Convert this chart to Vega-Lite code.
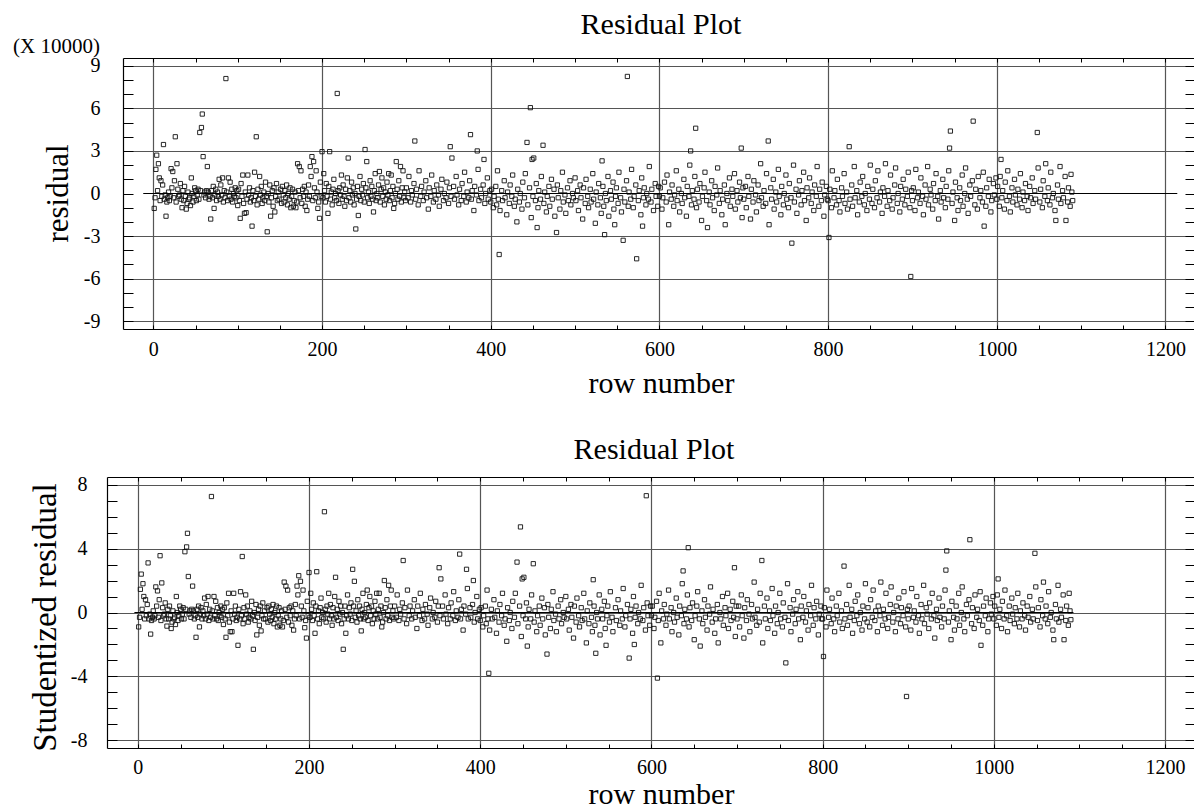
{
  "$schema": "https://vega.github.io/schema/vega-lite/v6.json",
  "padding": {"left": 13, "top": 10, "right": 0, "bottom": 0},
  "spacing": 36,
  "config": {
    "font": "Liberation Serif",
    "view": {"stroke": null},
    "axis": {"labelFont": "Liberation Serif", "titleFont": "Liberation Serif", "labelFontSize": 20, "titleFontSize": 30, "titleFontWeight": "normal", "labelColor": "black", "titleColor": "black", "domainColor": "black", "tickColor": "black", "gridColor": "#555", "gridWidth": 1.2, "domainWidth": 1.2, "tickWidth": 1},
    "title": {"font": "Liberation Serif", "fontSize": 30, "fontWeight": "normal", "color": "black"}
  },
  "datasets": {
    "pts": [
      {"n":1,"r":-1.05,"s":-0.9},{"n":3,"r":1.7,"s":1.45},{"n":4,"r":2.7,"s":2.4},{"n":6,"r":2.1,"s":1.8},{"n":7,"r":1.1,"s":1.0},{"n":9,"r":0.9,"s":0.8},{"n":12,"r":3.45,"s":3.1},{"n":15,"r":-1.6,"s":-1.35},{"n":21,"r":1.75,"s":1.6},{"n":23,"r":1.55,"s":1.35},{"n":26,"r":4.0,"s":3.55},{"n":28,"r":2.1,"s":1.85},{"n":34,"r":-1.0,"s":-0.85},{"n":39,"r":-1.1,"s":-1.0},{"n":44,"r":-0.85,"s":-0.75},{"n":45,"r":1.1,"s":1.0},{"n":55,"r":4.3,"s":3.8},{"n":57,"r":4.65,"s":4.1},{"n":58,"r":5.6,"s":4.95},{"n":59,"r":2.6,"s":2.25},{"n":64,"r":1.9,"s":1.65},{"n":68,"r":-1.8,"s":-1.55},{"n":72,"r":-1.05,"s":-0.9},{"n":86,"r":8.1,"s":7.25},{"n":100,"r":-0.85,"s":-0.75},{"n":103,"r":-1.75,"s":-1.55},{"n":108,"r":-1.4,"s":-1.2},{"n":110,"r":-1.35,"s":-1.2},{"n":117,"r":-2.3,"s":-2.05},{"n":122,"r":4.0,"s":3.5},{"n":135,"r":-2.7,"s":-2.3},{"n":139,"r":-1.6,"s":-1.4},{"n":144,"r":-1.3,"s":-1.15},{"n":171,"r":2.1,"s":1.9},{"n":173,"r":1.9,"s":1.65},{"n":175,"r":1.6,"s":1.4},{"n":182,"r":-1.2,"s":-1.1},{"n":186,"r":1.9,"s":1.65},{"n":188,"r":2.6,"s":2.3},{"n":190,"r":2.25,"s":1.95},{"n":195,"r":-1.05,"s":-0.95},{"n":197,"r":-1.75,"s":-1.6},{"n":200,"r":2.95,"s":2.5},{"n":207,"r":-1.4,"s":-1.3},{"n":209,"r":2.95,"s":2.55},{"n":218,"r":7.05,"s":6.3},{"n":231,"r":2.5,"s":2.2},{"n":240,"r":-2.5,"s":-2.3},{"n":243,"r":-1.55,"s":-1.3},{"n":251,"r":3.1,"s":2.7},{"n":253,"r":2.25,"s":1.95},{"n":261,"r":-1.3,"s":-1.15},{"n":268,"r":1.55,"s":1.4},{"n":279,"r":1.4,"s":1.2},{"n":285,"r":-1.05,"s":-0.9},{"n":288,"r":2.25,"s":2.0},{"n":293,"r":1.9,"s":1.7},{"n":310,"r":3.7,"s":3.25},{"n":352,"r":3.3,"s":2.8},{"n":354,"r":2.5,"s":2.1},{"n":376,"r":4.15,"s":3.65},{"n":384,"r":3.0,"s":2.7},{"n":392,"r":2.4,"s":2.0},{"n":410,"r":-4.3,"s":-3.8},{"n":443,"r":3.6,"s":3.15},{"n":447,"r":6.05,"s":5.35},{"n":455,"r":-2.4,"s":-2.1},{"n":462,"r":3.4,"s":3.05},{"n":478,"r":-2.75,"s":-2.6},{"n":532,"r":2.3,"s":2.05},{"n":535,"r":-2.9,"s":-2.55},{"n":547,"r":-2.2,"s":-2.05},{"n":557,"r":-3.3},{"n":562,"r":8.25},{"n":573,"r":-4.6},{"n":574,"s":-2.85},{"n":594,"s":7.3},{"n":607,"s":-4.1},{"n":580,"r":-2.3,"s":-2.0},{"n":637,"r":3.0,"s":2.6},{"n":643,"r":4.6,"s":4.05},{"n":697,"r":3.2,"s":2.8},{"n":729,"r":3.7,"s":3.25},{"n":757,"r":-3.5,"s":-3.15},{"n":801,"r":-3.1,"s":-2.75},{"n":825,"r":3.3,"s":2.9},{"n":898,"r":-5.85,"s":-5.25},{"n":944,"r":3.2,"s":2.65},{"n":945,"r":4.4,"s":3.85},{"n":972,"r":5.1,"s":4.55},{"n":985,"r":-2.3,"s":-2.05},{"n":1005,"r":2.4,"s":2.1},{"n":1048,"r":4.3,"s":3.7},{"n":1070,"r":-1.9,"s":-1.7},{"n":1082,"r":-1.9,"s":-1.7},{"n":1088,"r":1.35,"s":1.2},{"n":1090,"r":-0.5,"s":-0.45},
      {"n":2,"r":-0.3,"s":-0.3},{"n":5,"r":0.2,"s":0.2},{"n":8,"r":-0.5,"s":-0.4},{"n":10,"r":-0.2,"s":-0.2},{"n":11,"r":0.6,"s":0.5},{"n":13,"r":-0.4,"s":-0.4},{"n":14,"r":-0.1,"s":-0.1},{"n":16,"r":-0.6,"s":-0.5},{"n":17,"r":-0.3,"s":-0.3},{"n":18,"r":0.1,"s":0.1},{"n":19,"r":-0.5,"s":-0.4},{"n":20,"r":-0.2,"s":-0.2},{"n":22,"r":0.4,"s":0.4},{"n":24,"r":-0.3,"s":-0.3},{"n":25,"r":0.9,"s":0.8},{"n":27,"r":-0.6,"s":-0.5},{"n":29,"r":0.3,"s":0.3},{"n":30,"r":-0.2,"s":-0.2},{"n":31,"r":-0.1,"s":-0.1},{"n":32,"r":0.7,"s":0.6},{"n":33,"r":-0.4,"s":-0.4},{"n":35,"r":0.2,"s":0.2},{"n":36,"r":-0.5,"s":-0.4},{"n":37,"r":0.5,"s":0.4},{"n":38,"r":-0.2,"s":-0.2},{"n":40,"r":-0.7,"s":-0.6},{"n":41,"r":0.1,"s":0.1},{"n":42,"r":-0.4,"s":-0.4},{"n":43,"r":-0.3,"s":-0.3},{"n":46,"r":0.0,"s":0.0},{"n":47,"r":-0.6,"s":-0.5},{"n":48,"r":-0.2,"s":-0.2},{"n":49,"r":0.4,"s":0.4},{"n":50,"r":0.2,"s":0.2},{"n":51,"r":-0.5,"s":-0.4},{"n":52,"r":-0.1,"s":-0.1},{"n":53,"r":0.3,"s":0.3},{"n":54,"r":-0.4,"s":-0.4},{"n":56,"r":0.2,"s":0.2},{"n":60,"r":-0.1,"s":-0.1},{"n":61,"r":0.1,"s":0.1},{"n":62,"r":-0.3,"s":-0.3},{"n":63,"r":0.2,"s":0.2},{"n":65,"r":0.1,"s":0.1},{"n":66,"r":-0.4,"s":-0.4},{"n":67,"r":-0.2,"s":-0.2},{"n":69,"r":0.2,"s":0.2},{"n":70,"r":-0.3,"s":-0.3},{"n":71,"r":0.5,"s":0.4},{"n":73,"r":-0.1,"s":-0.1},{"n":74,"r":0.3,"s":0.3},{"n":75,"r":-0.5,"s":-0.4},{"n":76,"r":0.1,"s":0.1},{"n":77,"r":-0.2,"s":-0.2},{"n":78,"r":1.0,"s":0.9},{"n":79,"r":-0.4,"s":-0.4},{"n":80,"r":0.6,"s":0.5},{"n":81,"r":-0.1,"s":-0.1},{"n":82,"r":1.1,"s":1.0},{"n":83,"r":-0.6,"s":-0.5},{"n":84,"r":0.2,"s":0.2},{"n":85,"r":-0.3,"s":-0.3},{"n":87,"r":0.1,"s":0.1},{"n":88,"r":-0.5,"s":-0.4},{"n":89,"r":1.1,"s":1.0},{"n":90,"r":-0.2,"s":-0.2},{"n":91,"r":0.8,"s":0.7},{"n":92,"r":-0.4,"s":-0.4},{"n":93,"r":0.3,"s":0.3},{"n":94,"r":-0.6,"s":-0.5},{"n":95,"r":0.0,"s":0.0},{"n":96,"r":-0.2,"s":-0.2},{"n":97,"r":0.4,"s":0.4},{"n":98,"r":-0.3,"s":-0.3},{"n":99,"r":0.2,"s":0.2},
      {"n":101,"r":0.3,"s":0.3},{"n":102,"r":-0.5,"s":-0.4},{"n":104,"r":0.7,"s":0.6},{"n":105,"r":-0.2,"s":-0.2},{"n":106,"r":1.3,"s":1.2},{"n":107,"r":-0.7,"s":-0.6},{"n":109,"r":0.1,"s":0.1},{"n":111,"r":-0.4,"s":-0.4},{"n":112,"r":1.3,"s":1.2},{"n":113,"r":-0.1,"s":-0.1},{"n":114,"r":0.4,"s":0.4},{"n":115,"r":-0.6,"s":-0.5},{"n":116,"r":-0.3,"s":-0.3},{"n":118,"r":0.2,"s":0.2},{"n":119,"r":-0.5,"s":-0.4},{"n":120,"r":1.5,"s":1.3},{"n":121,"r":-0.2,"s":-0.2},{"n":123,"r":-0.8,"s":-0.7},{"n":124,"r":0.3,"s":0.3},{"n":125,"r":-0.4,"s":-0.4},{"n":126,"r":1.2,"s":1.1},{"n":127,"r":-0.1,"s":-0.1},{"n":128,"r":0.5,"s":0.4},{"n":129,"r":-0.7,"s":-0.6},{"n":130,"r":-0.3,"s":-0.3},{"n":131,"r":0.1,"s":0.1},{"n":132,"r":-0.5,"s":-0.4},{"n":133,"r":0.8,"s":0.7},{"n":134,"r":-0.2,"s":-0.2},{"n":136,"r":0.0,"s":0.0},{"n":137,"r":-0.6,"s":-0.5},{"n":138,"r":0.6,"s":0.5},{"n":140,"r":-0.3,"s":-0.3},{"n":141,"r":0.2,"s":0.2},{"n":142,"r":-0.9,"s":-0.8},{"n":143,"r":0.4,"s":0.4},{"n":145,"r":-0.2,"s":-0.2},{"n":146,"r":0.7,"s":0.6},{"n":147,"r":-0.5,"s":-0.4},{"n":148,"r":0.1,"s":0.1},{"n":149,"r":-0.4,"s":-0.4},{"n":151,"r":0.3,"s":0.3},{"n":152,"r":-0.7,"s":-0.6},{"n":153,"r":0.5,"s":0.4},{"n":154,"r":-0.1,"s":-0.1},{"n":155,"r":-0.6,"s":-0.5},{"n":156,"r":0.2,"s":0.2},{"n":157,"r":-0.3,"s":-0.3},{"n":158,"r":0.6,"s":0.5},{"n":159,"r":-0.8,"s":-0.7},{"n":160,"r":0.0,"s":0.0},{"n":161,"r":-0.4,"s":-0.4},{"n":162,"r":0.4,"s":0.4},{"n":163,"r":-1.0,"s":-0.9},{"n":164,"r":-0.2,"s":-0.2},{"n":165,"r":0.3,"s":0.3},{"n":166,"r":-0.9,"s":-0.8},{"n":167,"r":-0.5,"s":-0.4},{"n":168,"r":0.1,"s":0.1},{"n":169,"r":-1.0,"s":-0.9},{"n":170,"r":-0.6,"s":-0.5},{"n":172,"r":0.2,"s":0.2},{"n":174,"r":-0.3,"s":-0.3},{"n":176,"r":-0.7,"s":-0.6},{"n":177,"r":0.3,"s":0.3},{"n":178,"r":-0.2,"s":-0.2},{"n":179,"r":0.5,"s":0.4},{"n":180,"r":-0.9,"s":-0.8},{"n":181,"r":0.1,"s":0.1},{"n":183,"r":-0.4,"s":-0.4},{"n":184,"r":0.6,"s":0.5},{"n":185,"r":-0.2,"s":-0.2},{"n":187,"r":1.2,"s":1.1},{"n":189,"r":-0.5,"s":-0.4},{"n":191,"r":0.4,"s":0.4},{"n":192,"r":-0.3,"s":-0.3},{"n":193,"r":1.6,"s":1.4},{"n":194,"r":0.1,"s":0.1},{"n":196,"r":-0.6,"s":-0.5},{"n":198,"r":0.8,"s":0.7},{"n":199,"r":-0.2,"s":-0.2},
      {"n":201,"r":-0.3,"s":-0.3},{"n":202,"r":1.4,"s":1.2},{"n":203,"r":0.2,"s":0.2},{"n":204,"r":-0.6,"s":-0.5},{"n":205,"r":0.7,"s":0.6},{"n":206,"r":-0.2,"s":-0.2},{"n":208,"r":0.5,"s":0.4},{"n":210,"r":-0.4,"s":-0.4},{"n":211,"r":0.1,"s":0.1},{"n":212,"r":-0.8,"s":-0.7},{"n":213,"r":0.3,"s":0.3},{"n":214,"r":1.0,"s":0.9},{"n":215,"r":-0.3,"s":-0.3},{"n":216,"r":0.0,"s":0.0},{"n":217,"r":-0.5,"s":-0.4},{"n":219,"r":0.2,"s":0.2},{"n":220,"r":-0.7,"s":-0.6},{"n":221,"r":0.4,"s":0.4},{"n":222,"r":-0.1,"s":-0.1},{"n":223,"r":1.3,"s":1.2},{"n":224,"r":-0.4,"s":-0.4},{"n":225,"r":0.6,"s":0.5},{"n":226,"r":-0.2,"s":-0.2},{"n":227,"r":-0.9,"s":-0.8},{"n":228,"r":0.3,"s":0.3},{"n":229,"r":-0.5,"s":-0.4},{"n":230,"r":1.1,"s":1.0},{"n":232,"r":-0.3,"s":-0.3},{"n":233,"r":0.2,"s":0.2},{"n":234,"r":-0.6,"s":-0.5},{"n":235,"r":0.8,"s":0.7},{"n":236,"r":-0.1,"s":-0.1},{"n":237,"r":0.4,"s":0.4},{"n":238,"r":-0.8,"s":-0.7},{"n":239,"r":0.0,"s":0.0},{"n":241,"r":-0.4,"s":-0.4},{"n":242,"r":0.5,"s":0.4},{"n":244,"r":-0.2,"s":-0.2},{"n":245,"r":1.2,"s":1.1},{"n":246,"r":-0.5,"s":-0.4},{"n":247,"r":0.3,"s":0.3},{"n":248,"r":-0.1,"s":-0.1},{"n":249,"r":0.7,"s":0.6},{"n":250,"r":-0.6,"s":-0.5},{"n":252,"r":0.4,"s":0.4},{"n":254,"r":-0.3,"s":-0.3},{"n":255,"r":0.1,"s":0.1},{"n":256,"r":-0.7,"s":-0.6},{"n":257,"r":0.9,"s":0.8},{"n":258,"r":-0.2,"s":-0.2},{"n":259,"r":0.5,"s":0.4},{"n":260,"r":-0.4,"s":-0.4},{"n":262,"r":0.2,"s":0.2},{"n":263,"r":1.4,"s":1.2},{"n":264,"r":-0.5,"s":-0.4},{"n":265,"r":0.0,"s":0.0},{"n":266,"r":-0.3,"s":-0.3},{"n":267,"r":0.6,"s":0.5},{"n":269,"r":-0.6,"s":-0.5},{"n":270,"r":0.3,"s":0.3},{"n":271,"r":1.1,"s":1.0},{"n":272,"r":-0.2,"s":-0.2},{"n":273,"r":0.4,"s":0.4},{"n":274,"r":-0.8,"s":-0.7},{"n":275,"r":0.1,"s":0.1},{"n":276,"r":-0.4,"s":-0.4},{"n":277,"r":0.8,"s":0.7},{"n":278,"r":-0.1,"s":-0.1},{"n":280,"r":-0.5,"s":-0.4},{"n":281,"r":0.2,"s":0.2},{"n":282,"r":1.3,"s":1.2},{"n":283,"r":-0.3,"s":-0.3},{"n":284,"r":0.5,"s":0.4},{"n":286,"r":-0.7,"s":-0.6},{"n":287,"r":0.0,"s":0.0},{"n":289,"r":0.3,"s":0.3},{"n":290,"r":-0.4,"s":-0.4},{"n":291,"r":0.9,"s":0.8},{"n":292,"r":-0.2,"s":-0.2},{"n":294,"r":-0.6,"s":-0.5},{"n":295,"r":0.4,"s":0.4},{"n":296,"r":1.6,"s":1.4},{"n":297,"r":-0.3,"s":-0.3},{"n":298,"r":0.1,"s":0.1},{"n":299,"r":-0.5,"s":-0.4},
      {"n":300,"r":0.4,"s":0.4},{"n":302,"r":-0.3,"s":-0.3},{"n":303,"r":1.2,"s":1.1},{"n":305,"r":-0.6,"s":-0.5},{"n":306,"r":0.2,"s":0.2},{"n":307,"r":-0.1,"s":-0.1},{"n":309,"r":0.7,"s":0.6},{"n":311,"r":-0.4,"s":-0.4},{"n":312,"r":0.3,"s":0.3},{"n":314,"r":-0.8,"s":-0.7},{"n":315,"r":1.6,"s":1.4},{"n":317,"r":-0.2,"s":-0.2},{"n":318,"r":0.5,"s":0.4},{"n":320,"r":-0.5,"s":-0.4},{"n":321,"r":0.1,"s":0.1},{"n":323,"r":0.9,"s":0.8},{"n":324,"r":-0.3,"s":-0.3},{"n":326,"r":-1.1,"s":-1.0},{"n":327,"r":0.4,"s":0.4},{"n":329,"r":-0.2,"s":-0.2},{"n":330,"r":1.3,"s":1.2},{"n":332,"r":-0.6,"s":-0.5},{"n":333,"r":0.2,"s":0.2},{"n":335,"r":-0.4,"s":-0.4},{"n":336,"r":0.6,"s":0.5},{"n":338,"r":-0.1,"s":-0.1},{"n":339,"r":-0.9,"s":-0.8},{"n":341,"r":0.3,"s":0.3},{"n":342,"r":1.0,"s":0.9},{"n":344,"r":-0.5,"s":-0.4},{"n":345,"r":0.0,"s":0.0},{"n":347,"r":-0.3,"s":-0.3},{"n":348,"r":0.8,"s":0.7},{"n":350,"r":-0.7,"s":-0.6},{"n":351,"r":0.4,"s":0.4},{"n":353,"r":-0.2,"s":-0.2},{"n":356,"r":0.5,"s":0.4},{"n":357,"r":-0.4,"s":-0.4},{"n":359,"r":1.2,"s":1.1},{"n":360,"r":-0.1,"s":-0.1},{"n":362,"r":-0.8,"s":-0.7},{"n":363,"r":0.3,"s":0.3},{"n":365,"r":-0.5,"s":-0.4},{"n":366,"r":0.7,"s":0.6},{"n":368,"r":-0.2,"s":-0.2},{"n":369,"r":1.5,"s":1.3},{"n":371,"r":-0.6,"s":-0.5},{"n":372,"r":0.1,"s":0.1},{"n":374,"r":-0.3,"s":-0.3},{"n":375,"r":0.9,"s":0.8},{"n":377,"r":-0.4,"s":-0.4},{"n":378,"r":0.2,"s":0.2},{"n":380,"r":-1.2,"s":-1.1},{"n":381,"r":0.5,"s":0.4},{"n":383,"r":-0.1,"s":-0.1},{"n":385,"r":1.7,"s":1.5},{"n":386,"r":-0.5,"s":-0.4},{"n":388,"r":0.3,"s":0.3},{"n":389,"r":-0.3,"s":-0.3},{"n":391,"r":0.6,"s":0.5},{"n":393,"r":-0.7,"s":-0.6},{"n":394,"r":0.0,"s":0.0},{"n":396,"r":1.1,"s":1.0},{"n":397,"r":-0.4,"s":-0.4},{"n":399,"r":0.2,"s":0.2},
      {"n":400,"r":-0.6,"s":-0.5},{"n":401,"r":0.3,"s":0.3},{"n":403,"r":-1.0,"s":-0.9},{"n":404,"r":-0.2,"s":-0.2},{"n":406,"r":0.5,"s":0.4},{"n":407,"r":-0.8,"s":-0.7},{"n":408,"r":1.6,"s":1.4},{"n":409,"r":-0.4,"s":-0.4},{"n":411,"r":-1.2,"s":-1.1},{"n":413,"r":0.2,"s":0.2},{"n":414,"r":-0.5,"s":-0.4},{"n":416,"r":0.9,"s":0.8},{"n":417,"r":-0.3,"s":-0.3},{"n":419,"r":-1.5,"s":-1.3},{"n":420,"r":0.1,"s":0.1},{"n":422,"r":-0.7,"s":-0.6},{"n":423,"r":0.6,"s":0.5},{"n":425,"r":-0.2,"s":-0.2},{"n":426,"r":1.3,"s":1.2},{"n":428,"r":-0.9,"s":-0.8},{"n":429,"r":-0.4,"s":-0.4},{"n":431,"r":-2.0,"s":-1.8},{"n":432,"r":0.3,"s":0.3},{"n":434,"r":-0.6,"s":-0.5},{"n":435,"r":0.0,"s":0.0},{"n":437,"r":-1.1,"s":-1.0},{"n":438,"r":0.8,"s":0.7},{"n":440,"r":-0.3,"s":-0.3},{"n":441,"r":1.4,"s":1.2},{"n":444,"r":-0.8,"s":-0.7},{"n":446,"r":0.4,"s":0.4},{"n":448,"r":-1.7,"s":-1.5},{"n":449,"r":2.4,"s":2.1},{"n":450,"r":-0.2,"s":-0.2},{"n":451,"r":2.5,"s":2.2},{"n":453,"r":-0.5,"s":-0.4},{"n":454,"r":0.7,"s":0.6},{"n":456,"r":-1.0,"s":-0.9},{"n":457,"r":0.2,"s":0.2},{"n":459,"r":-0.4,"s":-0.4},{"n":460,"r":1.2,"s":1.1},{"n":463,"r":-0.7,"s":-0.6},{"n":464,"r":0.1,"s":0.1},{"n":466,"r":-1.3,"s":-1.2},{"n":467,"r":-0.2,"s":-0.2},{"n":469,"r":0.5,"s":0.4},{"n":470,"r":-0.9,"s":-0.8},{"n":472,"r":1.0,"s":0.9},{"n":473,"r":-0.4,"s":-0.4},{"n":475,"r":0.3,"s":0.3},{"n":476,"r":-1.6,"s":-1.4},{"n":479,"r":0.6,"s":0.5},{"n":480,"r":-0.3,"s":-0.3},{"n":482,"r":-1.1,"s":-1.0},{"n":483,"r":0.2,"s":0.2},{"n":485,"r":1.5,"s":1.3},{"n":486,"r":-0.6,"s":-0.5},{"n":488,"r":-0.1,"s":-0.1},{"n":489,"r":-1.4,"s":-1.2},{"n":491,"r":0.4,"s":0.4},{"n":492,"r":-0.5,"s":-0.4},{"n":494,"r":0.9,"s":0.8},{"n":495,"r":-0.8,"s":-0.7},{"n":497,"r":0.0,"s":0.0},{"n":498,"r":-0.3,"s":-0.3},{"n":500,"r":1.1,"s":1.0},
      {"n":501,"r":-0.5,"s":-0.4},{"n":503,"r":0.2,"s":0.2},{"n":504,"r":-1.2,"s":-1.1},{"n":506,"r":0.6,"s":0.5},{"n":507,"r":-0.3,"s":-0.3},{"n":509,"r":-1.8,"s":-1.6},{"n":510,"r":0.4,"s":0.4},{"n":512,"r":-0.7,"s":-0.6},{"n":513,"r":1.0,"s":0.9},{"n":515,"r":-0.2,"s":-0.2},{"n":516,"r":-1.0,"s":-0.9},{"n":518,"r":0.3,"s":0.3},{"n":519,"r":-0.6,"s":-0.5},{"n":521,"r":1.4,"s":1.2},{"n":522,"r":-0.4,"s":-0.4},{"n":524,"r":-2.1,"s":-1.9},{"n":525,"r":0.1,"s":0.1},{"n":527,"r":-0.8,"s":-0.7},{"n":528,"r":0.7,"s":0.6},{"n":530,"r":-0.3,"s":-0.3},{"n":531,"r":-1.4,"s":-1.2},{"n":533,"r":0.5,"s":0.4},{"n":534,"r":-0.9,"s":-0.8},{"n":536,"r":0.0,"s":0.0},{"n":537,"r":-0.5,"s":-0.4},{"n":539,"r":1.2,"s":1.1},{"n":540,"r":-1.6,"s":-1.4},{"n":542,"r":0.2,"s":0.2},{"n":543,"r":-0.4,"s":-0.4},{"n":545,"r":0.8,"s":0.7},{"n":546,"r":-1.1,"s":-1.0},{"n":548,"r":-0.2,"s":-0.2},{"n":549,"r":0.4,"s":0.4},{"n":551,"r":-0.7,"s":-0.6},{"n":552,"r":1.5,"s":1.3},{"n":554,"r":-0.3,"s":-0.3},{"n":555,"r":-1.3,"s":-1.2},{"n":558,"r":0.3,"s":0.3},{"n":559,"r":-0.6,"s":-0.5},{"n":561,"r":0.9,"s":0.8},{"n":563,"r":-0.9,"s":-0.8},{"n":564,"r":0.1,"s":0.1},{"n":566,"r":-0.4,"s":-0.4},{"n":567,"r":1.7,"s":1.5},{"n":569,"r":-1.0,"s":-0.9},{"n":570,"r":-0.2,"s":-0.2},{"n":572,"r":0.6,"s":0.5},{"n":575,"r":-0.5,"s":-0.4},{"n":576,"r":0.2,"s":0.2},{"n":578,"r":-1.5,"s":-1.3},{"n":579,"r":1.1,"s":1.0},{"n":581,"r":-0.3,"s":-0.3},{"n":582,"r":0.4,"s":0.4},{"n":584,"r":-0.8,"s":-0.7},{"n":585,"r":0.0,"s":0.0},{"n":587,"r":-0.4,"s":-0.4},{"n":588,"r":1.9,"s":1.7},{"n":590,"r":-0.6,"s":-0.5},{"n":591,"r":0.3,"s":0.3},{"n":593,"r":-1.2,"s":-1.1},{"n":595,"r":0.7,"s":0.6},{"n":596,"r":-0.2,"s":-0.2},{"n":598,"r":-0.9,"s":-0.8},{"n":599,"r":0.5,"s":0.4},
      {"n":600,"r":-0.2,"s":-0.2},{"n":601,"r":0.4,"s":0.4},{"n":603,"r":-1.1,"s":-1.0},{"n":604,"r":-0.3,"s":-0.3},{"n":606,"r":0.8,"s":0.7},{"n":608,"r":-0.6,"s":-0.5},{"n":609,"r":1.3,"s":1.2},{"n":611,"r":-2.2,"s":-1.9},{"n":612,"r":0.1,"s":0.1},{"n":614,"r":-0.4,"s":-0.4},{"n":615,"r":0.6,"s":0.5},{"n":617,"r":-0.9,"s":-0.8},{"n":618,"r":-0.1,"s":-0.1},{"n":620,"r":1.6,"s":1.4},{"n":621,"r":-0.5,"s":-0.4},{"n":623,"r":0.3,"s":0.3},{"n":624,"r":-1.3,"s":-1.2},{"n":626,"r":0.0,"s":0.0},{"n":627,"r":-0.7,"s":-0.6},{"n":629,"r":1.0,"s":0.9},{"n":630,"r":-0.3,"s":-0.3},{"n":632,"r":-1.6,"s":-1.4},{"n":633,"r":0.5,"s":0.4},{"n":635,"r":-0.2,"s":-0.2},{"n":636,"r":2.0,"s":1.8},{"n":638,"r":-0.8,"s":-0.7},{"n":639,"r":0.2,"s":0.2},{"n":641,"r":-0.4,"s":-0.4},{"n":642,"r":1.2,"s":1.1},{"n":644,"r":-1.0,"s":-0.9},{"n":645,"r":0.3,"s":0.3},{"n":647,"r":-0.6,"s":-0.5},{"n":648,"r":0.7,"s":0.6},{"n":650,"r":-1.9,"s":-1.7},{"n":651,"r":-0.2,"s":-0.2},{"n":653,"r":0.4,"s":0.4},{"n":654,"r":1.5,"s":1.3},{"n":656,"r":-0.5,"s":-0.4},{"n":657,"r":-2.4,"s":-2.1},{"n":659,"r":0.1,"s":0.1},{"n":660,"r":-0.8,"s":-0.7},{"n":662,"r":0.9,"s":0.8},{"n":663,"r":-0.3,"s":-0.3},{"n":665,"r":-1.2,"s":-1.1},{"n":666,"r":0.5,"s":0.4},{"n":668,"r":-0.1,"s":-0.1},{"n":669,"r":1.8,"s":1.6},{"n":671,"r":-0.7,"s":-0.6},{"n":672,"r":0.2,"s":0.2},{"n":674,"r":-1.5,"s":-1.3},{"n":675,"r":-0.4,"s":-0.4},{"n":677,"r":0.6,"s":0.5},{"n":678,"r":-2.2,"s":-1.9},{"n":680,"r":0.0,"s":0.0},{"n":681,"r":-0.5,"s":-0.4},{"n":683,"r":1.1,"s":1.0},{"n":684,"r":-0.9,"s":-0.8},{"n":686,"r":0.3,"s":0.3},{"n":687,"r":-0.2,"s":-0.2},{"n":689,"r":1.4,"s":1.2},{"n":690,"r":-1.1,"s":-1.0},{"n":692,"r":0.2,"s":0.2},{"n":693,"r":-0.6,"s":-0.5},{"n":695,"r":0.8,"s":0.7},{"n":696,"r":-0.3,"s":-0.3},{"n":698,"r":-1.7,"s":-1.5},{"n":699,"r":0.4,"s":0.4},
      {"n":700,"r":-0.4,"s":-0.4},{"n":702,"r":0.5,"s":0.4},{"n":703,"r":-1.0,"s":-0.9},{"n":705,"r":1.2,"s":1.1},{"n":706,"r":-0.2,"s":-0.2},{"n":708,"r":-1.8,"s":-1.6},{"n":709,"r":0.3,"s":0.3},{"n":711,"r":-0.6,"s":-0.5},{"n":712,"r":0.9,"s":0.8},{"n":714,"r":-0.1,"s":-0.1},{"n":715,"r":-1.3,"s":-1.2},{"n":717,"r":0.6,"s":0.5},{"n":718,"r":-0.5,"s":-0.4},{"n":720,"r":2.1,"s":1.9},{"n":721,"r":-0.3,"s":-0.3},{"n":723,"r":-0.9,"s":-0.8},{"n":724,"r":0.2,"s":0.2},{"n":726,"r":-0.7,"s":-0.6},{"n":727,"r":1.4,"s":1.2},{"n":730,"r":-2.2,"s":-1.9},{"n":732,"r":0.4,"s":0.4},{"n":733,"r":-0.4,"s":-0.4},{"n":735,"r":1.0,"s":0.9},{"n":736,"r":-1.1,"s":-1.0},{"n":738,"r":0.1,"s":0.1},{"n":739,"r":-0.6,"s":-0.5},{"n":741,"r":1.7,"s":1.5},{"n":742,"r":-0.2,"s":-0.2},{"n":744,"r":-1.5,"s":-1.3},{"n":745,"r":0.5,"s":0.4},{"n":747,"r":-0.8,"s":-0.7},{"n":748,"r":0.0,"s":0.0},{"n":750,"r":1.3,"s":1.2},{"n":751,"r":-0.4,"s":-0.4},{"n":753,"r":-1.0,"s":-0.9},{"n":754,"r":0.7,"s":0.6},{"n":756,"r":-0.3,"s":-0.3},{"n":759,"r":2.0,"s":1.8},{"n":760,"r":-0.6,"s":-0.5},{"n":762,"r":0.3,"s":0.3},{"n":763,"r":-1.4,"s":-1.2},{"n":765,"r":-0.1,"s":-0.1},{"n":766,"r":0.9,"s":0.8},{"n":768,"r":-0.8,"s":-0.7},{"n":769,"r":0.2,"s":0.2},{"n":771,"r":1.5,"s":1.3},{"n":772,"r":-0.5,"s":-0.4},{"n":774,"r":-1.9,"s":-1.7},{"n":775,"r":0.4,"s":0.4},{"n":777,"r":-0.3,"s":-0.3},{"n":778,"r":1.1,"s":1.0},{"n":780,"r":-0.7,"s":-0.6},{"n":781,"r":0.1,"s":0.1},{"n":783,"r":-1.2,"s":-1.1},{"n":784,"r":0.6,"s":0.5},{"n":786,"r":-0.2,"s":-0.2},{"n":787,"r":1.9,"s":1.7},{"n":789,"r":-0.9,"s":-0.8},{"n":790,"r":0.3,"s":0.3},{"n":792,"r":-0.5,"s":-0.4},{"n":793,"r":0.8,"s":0.7},{"n":795,"r":-1.6,"s":-1.4},{"n":796,"r":-0.1,"s":-0.1},{"n":798,"r":0.5,"s":0.4},{"n":799,"r":-0.4,"s":-0.4},
      {"n":800,"r":-0.5,"s":-0.4},{"n":802,"r":0.3,"s":0.3},{"n":804,"r":-1.0,"s":-0.9},{"n":805,"r":1.6,"s":1.4},{"n":807,"r":-0.3,"s":-0.3},{"n":808,"r":0.2,"s":0.2},{"n":810,"r":-0.8,"s":-0.7},{"n":811,"r":1.0,"s":0.9},{"n":813,"r":-0.5,"s":-0.4},{"n":814,"r":-1.3,"s":-1.2},{"n":816,"r":0.4,"s":0.4},{"n":817,"r":-0.2,"s":-0.2},{"n":819,"r":1.4,"s":1.2},{"n":820,"r":-0.7,"s":-0.6},{"n":822,"r":0.1,"s":0.1},{"n":823,"r":-1.1,"s":-1.0},{"n":826,"r":-0.4,"s":-0.4},{"n":828,"r":0.6,"s":0.5},{"n":829,"r":-0.9,"s":-0.8},{"n":831,"r":1.9,"s":1.7},{"n":832,"r":-0.3,"s":-0.3},{"n":834,"r":0.2,"s":0.2},{"n":835,"r":-1.5,"s":-1.3},{"n":837,"r":-0.6,"s":-0.5},{"n":838,"r":0.8,"s":0.7},{"n":840,"r":-0.2,"s":-0.2},{"n":841,"r":1.2,"s":1.1},{"n":843,"r":-0.8,"s":-0.7},{"n":844,"r":0.0,"s":0.0},{"n":846,"r":-1.2,"s":-1.1},{"n":847,"r":0.5,"s":0.4},{"n":849,"r":-0.4,"s":-0.4},{"n":850,"r":2.0,"s":1.8},{"n":852,"r":-0.7,"s":-0.6},{"n":853,"r":0.3,"s":0.3},{"n":855,"r":-1.0,"s":-0.9},{"n":856,"r":0.9,"s":0.8},{"n":858,"r":-0.3,"s":-0.3},{"n":859,"r":1.6,"s":1.4},{"n":861,"r":-0.6,"s":-0.5},{"n":862,"r":0.1,"s":0.1},{"n":864,"r":-1.4,"s":-1.2},{"n":865,"r":0.4,"s":0.4},{"n":867,"r":-0.2,"s":-0.2},{"n":868,"r":2.1,"s":1.9},{"n":870,"r":-0.9,"s":-0.8},{"n":871,"r":0.2,"s":0.2},{"n":873,"r":-0.5,"s":-0.4},{"n":874,"r":1.3,"s":1.2},{"n":876,"r":-1.1,"s":-1.0},{"n":877,"r":-0.3,"s":-0.3},{"n":879,"r":0.6,"s":0.5},{"n":880,"r":1.8,"s":1.6},{"n":882,"r":-0.7,"s":-0.6},{"n":883,"r":0.0,"s":0.0},{"n":885,"r":-1.3,"s":-1.2},{"n":886,"r":0.5,"s":0.4},{"n":888,"r":-0.4,"s":-0.4},{"n":889,"r":1.0,"s":0.9},{"n":891,"r":-0.8,"s":-0.7},{"n":892,"r":0.3,"s":0.3},{"n":894,"r":-0.2,"s":-0.2},{"n":895,"r":1.5,"s":1.3},{"n":897,"r":-1.0,"s":-0.9},{"n":899,"r":0.2,"s":0.2},
      {"n":900,"r":-0.5,"s":-0.4},{"n":901,"r":0.4,"s":0.4},{"n":903,"r":-1.2,"s":-1.1},{"n":904,"r":1.7,"s":1.5},{"n":906,"r":-0.3,"s":-0.3},{"n":907,"r":0.1,"s":0.1},{"n":909,"r":-0.7,"s":-0.6},{"n":910,"r":1.1,"s":1.0},{"n":912,"r":-0.2,"s":-0.2},{"n":913,"r":-1.5,"s":-1.3},{"n":915,"r":0.6,"s":0.5},{"n":916,"r":-0.4,"s":-0.4},{"n":918,"r":1.9,"s":1.7},{"n":919,"r":-0.8,"s":-0.7},{"n":921,"r":0.3,"s":0.3},{"n":922,"r":-0.1,"s":-0.1},{"n":924,"r":-1.1,"s":-1.0},{"n":925,"r":0.7,"s":0.6},{"n":927,"r":-0.5,"s":-0.4},{"n":928,"r":1.4,"s":1.2},{"n":930,"r":-0.2,"s":-0.2},{"n":931,"r":-1.8,"s":-1.6},{"n":933,"r":0.2,"s":0.2},{"n":934,"r":-0.6,"s":-0.5},{"n":936,"r":1.0,"s":0.9},{"n":937,"r":-0.3,"s":-0.3},{"n":939,"r":-1.0,"s":-0.9},{"n":940,"r":0.5,"s":0.4},{"n":942,"r":-0.4,"s":-0.4},{"n":943,"r":1.6,"s":1.4},{"n":947,"r":-0.7,"s":-0.6},{"n":948,"r":0.1,"s":0.1},{"n":950,"r":-1.9,"s":-1.7},{"n":951,"r":0.8,"s":0.7},{"n":953,"r":-0.3,"s":-0.3},{"n":954,"r":-1.2,"s":-1.1},{"n":956,"r":0.4,"s":0.4},{"n":957,"r":-0.5,"s":-0.4},{"n":959,"r":1.3,"s":1.2},{"n":960,"r":-0.9,"s":-0.8},{"n":962,"r":0.0,"s":0.0},{"n":963,"r":1.8,"s":1.6},{"n":965,"r":-0.4,"s":-0.4},{"n":966,"r":-1.4,"s":-1.2},{"n":968,"r":0.6,"s":0.5},{"n":969,"r":-0.2,"s":-0.2},{"n":971,"r":0.9,"s":0.8},{"n":974,"r":-0.8,"s":-0.7},{"n":975,"r":0.3,"s":0.3},{"n":977,"r":-1.1,"s":-1.0},{"n":978,"r":1.2,"s":1.1},{"n":980,"r":-0.3,"s":-0.3},{"n":981,"r":0.2,"s":0.2},{"n":983,"r":-0.6,"s":-0.5},{"n":984,"r":1.5,"s":1.3},{"n":987,"r":-0.9,"s":-0.8},{"n":988,"r":0.4,"s":0.4},{"n":990,"r":-0.2,"s":-0.2},{"n":991,"r":1.0,"s":0.9},{"n":993,"r":-1.3,"s":-1.2},{"n":994,"r":-0.5,"s":-0.4},{"n":996,"r":0.7,"s":0.6},{"n":997,"r":-0.1,"s":-0.1},{"n":999,"r":1.1,"s":1.0},
      {"n":1000,"r":-0.4,"s":-0.4},{"n":1001,"r":0.5,"s":0.4},{"n":1003,"r":-0.9,"s":-0.8},{"n":1004,"r":1.2,"s":1.1},{"n":1006,"r":-0.3,"s":-0.3},{"n":1007,"r":0.2,"s":0.2},{"n":1009,"r":-1.1,"s":-1.0},{"n":1010,"r":0.8,"s":0.7},{"n":1012,"r":-0.5,"s":-0.4},{"n":1013,"r":1.6,"s":1.4},{"n":1015,"r":-0.2,"s":-0.2},{"n":1016,"r":-1.3,"s":-1.2},{"n":1018,"r":0.4,"s":0.4},{"n":1019,"r":-0.6,"s":-0.5},{"n":1021,"r":1.0,"s":0.9},{"n":1022,"r":-0.1,"s":-0.1},{"n":1024,"r":-0.8,"s":-0.7},{"n":1025,"r":0.3,"s":0.3},{"n":1027,"r":-0.4,"s":-0.4},{"n":1028,"r":1.4,"s":1.2},{"n":1030,"r":-1.0,"s":-0.9},{"n":1031,"r":0.1,"s":0.1},{"n":1033,"r":-0.5,"s":-0.4},{"n":1034,"r":0.7,"s":0.6},{"n":1036,"r":-0.2,"s":-0.2},{"n":1037,"r":-1.2,"s":-1.1},{"n":1039,"r":0.5,"s":0.4},{"n":1040,"r":-0.3,"s":-0.3},{"n":1042,"r":1.1,"s":1.0},{"n":1043,"r":-0.7,"s":-0.6},{"n":1045,"r":0.2,"s":0.2},{"n":1046,"r":-0.4,"s":-0.4},{"n":1049,"r":1.8,"s":1.6},{"n":1051,"r":-0.6,"s":-0.5},{"n":1052,"r":0.3,"s":0.3},{"n":1054,"r":-1.0,"s":-0.9},{"n":1055,"r":0.9,"s":0.8},{"n":1057,"r":-0.2,"s":-0.2},{"n":1058,"r":2.1,"s":1.9},{"n":1060,"r":-0.5,"s":-0.4},{"n":1061,"r":0.4,"s":0.4},{"n":1063,"r":-0.8,"s":-0.7},{"n":1064,"r":1.5,"s":1.3},{"n":1066,"r":-0.3,"s":-0.3},{"n":1067,"r":0.0,"s":0.0},{"n":1069,"r":-1.2,"s":-1.1},{"n":1072,"r":0.6,"s":0.5},{"n":1073,"r":-0.4,"s":-0.4},{"n":1075,"r":1.9,"s":1.7},{"n":1076,"r":-0.7,"s":-0.6},{"n":1078,"r":0.2,"s":0.2},{"n":1079,"r":-0.3,"s":-0.3},{"n":1081,"r":1.2,"s":1.1},{"n":1084,"r":-0.6,"s":-0.5},{"n":1085,"r":0.4,"s":0.4},{"n":1087,"r":-0.9,"s":-0.8},{"n":1089,"r":0.1,"s":0.1}
    ]
  },
  "vconcat": [
    {
      "width": 1088,
      "height": 271,
      "title": {"text": "Residual Plot", "anchor": "middle", "frame": "group", "dx": 10, "offset": -28, "baseline": "alphabetic"},
      "layer": [
        {
          "data": {"name": "pts"},
          "mark": {"type": "point", "shape": "square", "filled": false, "size": 18, "strokeWidth": 0.9, "color": "#111", "opacity": 1},
          "encoding": {
            "x": {"field": "n", "type": "quantitative", "scale": {"domain": [-36, 1235], "range": [16, 1088], "nice": false, "zero": false},
              "axis": {"orient": "bottom", "values": [0,50,100,150,200,250,300,350,400,450,500,550,600,650,700,750,800,850,900,950,1000,1050,1100,1150,1200], "tickSize": -4, "labelPadding": 14, "labelExpr": "datum.value % 200 === 0 ? '' + datum.value : ''", "grid": true, "gridOpacity": {"condition": {"test": "datum.value % 200 === 0", "value": 1}, "value": 0}, "title": "row number", "titleX": 554, "titleY": 63, "titleBaseline": "alphabetic", "titleAlign": "center"}},
            "y": {"field": "r", "type": "quantitative", "scale": {"domain": [-9.55, 9.55], "nice": false, "zero": false},
              "axis": {"orient": "left", "offset": -16, "values": [-9,-8,-7,-6,-5,-4,-3,-2,-1,0,1,2,3,4,5,6,7,8,9], "tickSize": -10, "labelPadding": 33, "labelExpr": "datum.value % 3 === 0 ? '' + datum.value : ''", "grid": true, "gridOpacity": {"condition": {"test": "datum.value % 3 === 0 && datum.value !== 0", "value": 1}, "value": 0}, "title": "residual", "titleFontSize": 31, "titleX": -56, "titleY": 135, "titleAngle": 270, "titleAlign": "center", "titleBaseline": "alphabetic"}}
          }
        },
        {
          "data": {"values": [{"a": -12, "b": 1214, "y": 0}]},
          "mark": {"type": "rule", "color": "black", "strokeWidth": 1.2},
          "encoding": {
            "x": {"field": "a", "type": "quantitative", "scale": {"domain": [-36, 1235], "range": [16, 1088], "nice": false, "zero": false},
              "axis": {"orient": "top", "values": [0,50,100,150,200,250,300,350,400,450,500,550,600,650,700,750,800,850,900,950,1000,1050,1100,1150,1200], "tickSize": -4, "labels": false, "grid": false, "title": null}},
            "x2": {"field": "b"},
            "y": {"field": "y", "type": "quantitative", "scale": {"domain": [-9.55, 9.55], "nice": false, "zero": false},
              "axis": {"orient": "right", "values": [-9,-8,-7,-6,-5,-4,-3,-2,-1,0,1,2,3,4,5,6,7,8,9], "tickSize": -10, "labels": false, "grid": false, "title": null}}
          }
        },
        {
          "data": {"values": [{"t": "(X 10000)"}]},
          "mark": {"type": "text", "align": "right", "baseline": "alphabetic", "fontSize": 21, "font": "Liberation Serif", "color": "black", "dy": -5},
          "encoding": {
            "x": {"datum": -63.3, "type": "quantitative", "scale": {"domain": [-36, 1235], "range": [16, 1088], "nice": false, "zero": false}, "axis": null},
            "y": {"datum": 9.55, "type": "quantitative", "scale": {"domain": [-9.55, 9.55], "nice": false, "zero": false}, "axis": null},
            "text": {"field": "t"}
          }
        }
      ],
      "resolve": {"axis": {"x": "independent", "y": "independent"}}
    },
    {
      "width": 1088,
      "height": 271,
      "title": {"text": "Residual Plot", "anchor": "middle", "frame": "group", "dx": 3, "offset": -14, "baseline": "alphabetic"},
      "layer": [
        {
          "data": {"name": "pts"},
          "mark": {"type": "point", "shape": "square", "filled": false, "size": 18, "strokeWidth": 0.9, "color": "#111", "opacity": 1},
          "encoding": {
            "x": {"field": "n", "type": "quantitative", "scale": {"domain": [-36, 1235], "nice": false, "zero": false},
              "axis": {"orient": "bottom", "values": [0,50,100,150,200,250,300,350,400,450,500,550,600,650,700,750,800,850,900,950,1000,1050,1100,1150,1200], "tickSize": -4, "labelPadding": 13, "labelExpr": "datum.value % 200 === 0 ? '' + datum.value : ''", "grid": true, "gridOpacity": {"condition": {"test": "datum.value % 200 === 0", "value": 1}, "value": 0}, "title": "row number", "titleX": 554, "titleY": 55, "titleBaseline": "alphabetic", "titleAlign": "center"}},
            "y": {"field": "s", "type": "quantitative", "scale": {"domain": [-8.47, 8.47], "nice": false, "zero": false},
              "axis": {"orient": "left", "values": [-8,-7,-6,-5,-4,-3,-2,-1,0,1,2,3,4,5,6,7,8], "tickSize": -10, "labelPadding": 30, "labelExpr": "datum.value % 4 === 0 ? '' + datum.value : ''", "grid": true, "gridOpacity": {"condition": {"test": "datum.value % 4 === 0", "value": 1}, "value": 0}, "title": "Studentized residual", "titleFontSize": 33, "titleX": -52, "titleY": 140, "titleAngle": 270, "titleAlign": "center", "titleBaseline": "alphabetic"}}
          }
        },
        {
          "data": {"values": [{"a": -4, "b": 1093, "y": 0}]},
          "mark": {"type": "rule", "color": "black", "strokeWidth": 1.2},
          "encoding": {
            "x": {"field": "a", "type": "quantitative", "scale": {"domain": [-36, 1235], "nice": false, "zero": false},
              "axis": {"orient": "top", "values": [0,50,100,150,200,250,300,350,400,450,500,550,600,650,700,750,800,850,900,950,1000,1050,1100,1150,1200], "tickSize": -4, "labels": false, "grid": false, "title": null}},
            "x2": {"field": "b"},
            "y": {"field": "y", "type": "quantitative", "scale": {"domain": [-8.47, 8.47], "nice": false, "zero": false},
              "axis": {"orient": "right", "values": [-8,-7,-6,-5,-4,-3,-2,-1,0,1,2,3,4,5,6,7,8], "tickSize": -10, "labels": false, "grid": false, "title": null}}
          }
        }
      ],
      "resolve": {"axis": {"x": "independent", "y": "independent"}}
    }
  ]
}
